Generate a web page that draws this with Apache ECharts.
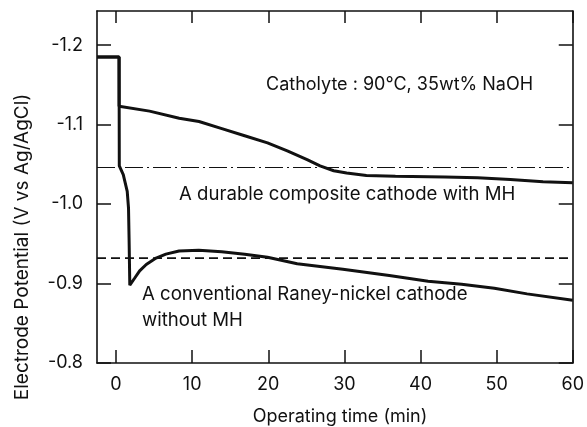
<!DOCTYPE html>
<html>
<head>
<meta charset="utf-8">
<script src="https://cdn.jsdelivr.net/npm/echarts@6/dist/echarts.min.js"></script>
<style>
html,body{margin:0;padding:0;background:#fff;}
#chart{width:587px;height:427px;}
</style>
</head>
<body>
<div id="chart"></div>
<script>
// ---- data ----
var durableTime = [-2.5, 0.4, 0.4, 0.6, 4.4, 8.3, 10.9, 13.9, 16.9, 19.9, 22.5, 25.1, 26.8, 28.6, 30.3, 32.9, 36.7, 43.2, 47.5, 51.8, 56.1, 60];
var durablePot  = [-1.185, -1.185, -1.123, -1.122, -1.117, -1.108, -1.104, -1.095, -1.086, -1.077, -1.067, -1.056, -1.048, -1.042, -1.039, -1.036, -1.035, -1.034, -1.033, -1.031, -1.028, -1.027];

var convTime = [-2.5, 0.4, 0.43, 0.95, 1.47, 1.64, 1.72, 1.81, 2.46, 3.1, 3.97, 5.26, 6.55, 8.28, 10.87, 13.88, 16.9, 19.9, 23.8, 29.8, 35.9, 41.0, 45.4, 49.7, 54.0, 60];
var convPot  = [-1.185, -1.185, -1.048, -1.037, -1.016, -0.995, -0.953, -0.898, -0.907, -0.916, -0.924, -0.932, -0.937, -0.941, -0.942, -0.940, -0.937, -0.933, -0.925, -0.918, -0.910, -0.903, -0.899, -0.894, -0.887, -0.879];

var refTime = [-2.5, 60];
var durableRef = [-1.046, -1.046];
var convRef = [-0.932, -0.932];

var xTicks = [0, 10, 20, 30, 40, 50, 60];
var yTicks = [-1.2, -1.1, -1.0, -0.9, -0.8];

var yTitle = 'Electrode Potential (V vs Ag/AgCl)';
var xTitle = 'Operating time (min)';
var noteCond = 'Catholyte : 90\u2103, 35wt% NaOH';
var noteDurable = 'A durable composite cathode with MH';
var noteConv1 = 'A conventional Raney-nickel cathode';
var noteConv2 = 'without MH';

function pairs(xs, ys){ return xs.map(function(x,i){ return [x, ys[i]]; }); }

var FONT = 'Inter';
var INK = '#111';

var chart = echarts.init(document.getElementById('chart'), null, {renderer:'canvas'});
var xMin = -2.5, xMax = 60, yMin = -1.243, yMax = -0.8;

function axisLine(){ return {show:true, onZero:false, lineStyle:{color:INK, width:1.6}}; }
chart.setOption({
  backgroundColor:'#fff',
  animation:false,
  grid:{left:97, right:7, top:11, bottom:64, containLabel:false},
  xAxis:[{
    type:'value', position:'bottom', min:xMin, max:xMax,
    axisLine:axisLine(),
    axisTick:{show:true, inside:true, length:13, lineStyle:{color:INK, width:1.5}, customValues:xTicks},
    axisLabel:{show:true, margin:13, fontFamily:FONT, fontSize:18, color:INK, customValues:xTicks},
    splitLine:{show:false}
  },{
    type:'value', position:'top', min:xMin, max:xMax,
    axisLine:axisLine(),
    axisTick:{show:true, inside:true, length:12, lineStyle:{color:INK, width:1.5}, customValues:xTicks},
    axisLabel:{show:false},
    splitLine:{show:false}
  }],
  yAxis:[{
    type:'value', position:'left', inverse:true, min:yMin, max:yMax,
    axisLine:axisLine(),
    axisTick:{show:true, inside:true, length:14, lineStyle:{color:INK, width:1.5}, customValues:yTicks},
    axisLabel:{show:true, margin:14, fontFamily:FONT, fontSize:18, color:INK, customValues:yTicks,
      formatter:function(v){ return v.toFixed(1); }},
    splitLine:{show:false}
  },{
    type:'value', position:'right', inverse:true, min:yMin, max:yMax,
    axisLine:axisLine(),
    axisTick:{show:true, inside:true, length:14, lineStyle:{color:INK, width:1.5}, customValues:yTicks},
    axisLabel:{show:false},
    splitLine:{show:false}
  }],
  series:[
    {type:'line', xAxisIndex:0, yAxisIndex:0, data:pairs(refTime, durableRef), symbol:'none',
      lineStyle:{color:INK, width:1.1, type:[18,4,2,4]}},
    {type:'line', xAxisIndex:0, yAxisIndex:0, data:pairs(refTime, convRef), symbol:'none',
      lineStyle:{color:INK, width:1.6, type:[9,5]}},
    {type:'line', xAxisIndex:0, yAxisIndex:0, data:pairs(durableTime, durablePot), symbol:'none',
      lineStyle:{color:INK, width:3}},
    {type:'line', xAxisIndex:0, yAxisIndex:0, data:pairs(convTime, convPot), symbol:'none',
      lineStyle:{color:INK, width:3}}
  ],
  graphic:[
    {type:'text', x:266, y:85, style:{text:noteCond, font:'18px '+FONT, fill:INK, verticalAlign:'middle', align:'left'}},
    {type:'text', x:179, y:194, style:{text:noteDurable, font:'18.6px '+FONT, fill:INK, verticalAlign:'middle', align:'left'}},
    {type:'text', x:142, y:294, style:{text:noteConv1, font:'18.6px '+FONT, fill:INK, verticalAlign:'middle', align:'left'}},
    {type:'text', x:142, y:320, style:{text:noteConv2, font:'18.6px '+FONT, fill:INK, verticalAlign:'middle', align:'left'}},
    {type:'text', x:340, y:417, style:{text:xTitle, font:'18px '+FONT, fill:INK, verticalAlign:'middle', align:'center'}},
    {type:'text', x:22, y:247, rotation:Math.PI/2, style:{text:yTitle, font:'19px '+FONT, fill:INK, verticalAlign:'middle', align:'center'}}
  ]
});
</script>
</body>
</html>
